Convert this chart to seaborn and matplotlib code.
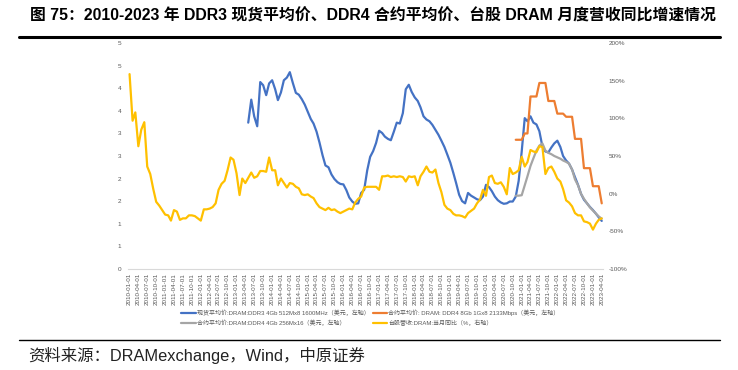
import pandas as pd
import matplotlib
matplotlib.use('Agg')
import matplotlib.pyplot as plt
from matplotlib.lines import Line2D
import seaborn as sns

# style first, fonts after (set_theme resets font.family)
sns.set_theme(style='white')
plt.rcParams['font.family'] = ['Liberation Sans', 'Noto Sans CJK SC']
plt.rcParams['axes.unicode_minus'] = False

# ---- data (monthly) ----
# 台股营收:DRAM:当月同比, %, 2010-01 .. 2023-04
yoy_start = '2010-01-01'
yoy_pct = [
    159, 97, 108, 63, 85, 95, 36, 26, 6, -11, -16, -22,
    -28, -29, -36, -22, -24, -35, -33, -33, -29, -29, -30, -33,
    -36, -21, -21, -20, -18, -13, 5, 13, 17, 31, 48, 45,
    27, -2, 20, 14, 21, 28, 21, 23, 30, 30, 29, 48,
    31, 31, 11, 20, 14, 8, 14, 13, 9, 7, -1, -2,
    -1, -4, -6, -13, -18, -20, -22, -19, -22, -21, -24, -26,
    -24, -22, -20, -21, -12, -7, -4, 8, 9, 9, 9, 9,
    5, 23, 23, 24, 22, 23, 22, 23, 22, 16, 23, 22,
    23, 11, 23, 29, 36, 29, 28, 32, 14, 2, -15, -20,
    -22, -27, -29, -29, -30, -32, -26, -23, -20, -13, -8, 5,
    -3, 22, 24, 14, 13, 15, 9, -1, 34, 26, 28, 31,
    49, 36, 42, 58, 56, 55, 63, 62, 26, 34, 36, 29,
    20, 16, 6, -9, -12, -17, -26, -29, -29, -37, -38, -40,
    -48, -40, -35, -33,
]

# DDR3 4Gb 512Mx8 1600MHz spot, USD, 2013-05 .. 2023-04
ddr3_start = '2013-05-01'
ddr3_spot = [
    3.24, 3.75, 3.38, 3.16, 4.14, 4.07, 3.85, 4.11,
    4.18, 3.98, 3.74, 3.91, 4.18, 4.24, 4.36, 4.12, 3.90, 3.86, 3.76, 3.64,
    3.48, 3.32, 3.22, 3.04, 2.80, 2.52, 2.29, 2.25, 2.09, 1.99, 1.92, 1.88,
    1.87, 1.74, 1.58, 1.49, 1.44, 1.45, 1.68, 1.75, 2.18, 2.48, 2.61, 2.79,
    3.06, 3.01, 2.93, 2.88, 2.85, 3.04, 3.24, 3.22, 3.45, 3.98, 4.08, 3.92,
    3.80, 3.72, 3.58, 3.38, 3.31, 3.27, 3.19, 3.08, 2.97, 2.84, 2.70, 2.53,
    2.35, 2.12, 1.90, 1.64, 1.50, 1.45, 1.68, 1.62, 1.58, 1.54, 1.52, 1.60,
    1.86, 1.81, 1.72, 1.60, 1.52, 1.47, 1.44, 1.45, 1.49, 1.49, 1.60, 1.95,
    2.60, 3.34, 3.27, 3.38, 3.24, 3.20, 3.05, 2.71, 2.60, 2.58, 2.69, 2.78,
    2.84, 2.70, 2.50, 2.40, 2.33, 2.20, 2.03, 1.86, 1.66, 1.53, 1.45, 1.37,
    1.30, 1.22, 1.14, 1.06,
]

# DDR4 contract prices, USD, 2020-11 .. 2023-04
ddr4_start = '2020-11-01'
ddr4_8gb = [
    2.86, 2.86, 2.86, 3.00, 3.00, 3.82, 3.82, 3.82, 4.12, 4.12,
    4.12, 3.72, 3.72, 3.72, 3.44, 3.44, 3.44, 3.37, 3.37, 3.37,
    2.88, 2.88, 2.88, 2.23, 2.23, 2.23, 1.83, 1.83, 1.83, 1.45,
]
ddr4_4gb = [
    1.62, 1.62, 1.63, 1.85, 2.05, 2.28, 2.45, 2.62, 2.73, 2.78,
    2.62, 2.57, 2.54, 2.50, 2.47, 2.44, 2.40, 2.37, 2.33, 2.20,
    1.98, 1.85, 1.66, 1.55, 1.45, 1.36, 1.29, 1.22, 1.16, 1.11,
]

left_ticks = [0, 0.5, 1, 1.5, 2, 2.5, 3, 3.5, 4, 4.5, 5]
left_labels = ['0', '1', '1', '2', '2', '3', '3', '4', '4', '5', '5']
right_ticks = [-1.0, -0.5, 0, 0.5, 1.0, 1.5, 2.0]
right_labels = ['-100%', '-50%', '0%', '50%', '100%', '150%', '200%']

labels = [
    '现货平均价:DRAM:DDR3 4Gb 512Mx8 1600MHz（美元，左轴）',
    '合约平均价:DRAM:DDR4 4Gb 256Mx16（美元，左轴）',
    '合约平均价: DRAM: DDR4 8Gb 1Gx8 2133Mbps（美元，左轴）',
    '台股营收:DRAM:当月同比（%，右轴）',
]
colors = ['#4472C4', '#A5A5A5', '#ED7D31', '#FFC000']


def monthly(start, values, col):
    return pd.DataFrame({'date': pd.date_range(start, periods=len(values), freq='MS'),
                         col: values})


yoy_df = monthly(yoy_start, yoy_pct, 'yoy')
yoy_df['yoy'] = yoy_df['yoy'] / 100
ddr3_df = monthly(ddr3_start, ddr3_spot, 'price')
d8_df = monthly(ddr4_start, ddr4_8gb, 'price')
d4_df = monthly(ddr4_start, ddr4_4gb, 'price')

W, H = 738, 370
fig = plt.figure(figsize=(W / 100, H / 100), dpi=100)
ax = fig.add_axes([128 / W, 1 - 268.7 / H, 475.2 / W, 225.4 / H])
ax2 = ax.twinx()

lw = 1.6
sns.lineplot(data=ddr3_df, x='date', y='price', ax=ax, color=colors[0], linewidth=lw)
sns.lineplot(data=d8_df, x='date', y='price', ax=ax, color=colors[2], linewidth=lw)
sns.lineplot(data=d4_df, x='date', y='price', ax=ax, color=colors[1], linewidth=lw)
sns.lineplot(data=yoy_df, x='date', y='yoy', ax=ax2, color=colors[3], linewidth=lw)

ax.set_ylim(0, 5)
ax2.set_ylim(-1, 2)
ax.set_xlim(pd.Timestamp('2009-12-16'), pd.Timestamp('2023-04-16'))

ax.set_yticks(left_ticks)
ax.set_yticklabels(left_labels)
ax2.set_yticks(right_ticks)
ax2.set_yticklabels(right_labels)

qticks = pd.date_range('2010-01-01', '2023-04-01', freq='QS')
ax.set_xticks(qticks)
ax.set_xticklabels([d.strftime('%Y-%m-%d') for d in qticks], rotation=90)

for a in (ax, ax2):
    a.set_xlabel('')
    a.set_ylabel('')
    for s in a.spines.values():
        s.set_visible(False)
    a.grid(False)
ax.spines['bottom'].set_visible(True)
ax.spines['bottom'].set_color('#d9d9d9')
ax.spines['bottom'].set_linewidth(0.8)

tick_col = '#595959'
ax.tick_params(axis='y', length=0, pad=5, labelsize=4.6, labelcolor=tick_col)
ax2.tick_params(axis='y', length=0, pad=4, labelsize=4.6, labelcolor=tick_col)
ax.tick_params(axis='x', length=0, pad=3, labelsize=4.5, labelcolor=tick_col)

handles = [Line2D([], [], color=c, linewidth=lw) for c in colors]
fig.legend(handles, labels, ncol=2, loc='upper left',
           bbox_to_anchor=(181 / W, 1 - 309.5 / H), frameon=False,
           fontsize=4.3, labelcolor=tick_col, handlelength=2.45,
           handletextpad=0.2, columnspacing=0.5, labelspacing=0.6,
           borderpad=0, borderaxespad=0)

# title, rules and source note
fig.text(30 / W, 1 - 16 / H,
         '图 75：2010-2023 年 DDR3 现货平均价、DDR4 合约平均价、台股 DRAM 月度营收同比增速情况',
         fontsize=11.4, fontweight='bold', va='center', ha='left', color='black')
fig.add_artist(Line2D([19 / W, 720 / W], [1 - 37 / H] * 2, color='black', linewidth=2.2))
fig.add_artist(Line2D([19 / W, 720 / W], [1 - 340 / H] * 2, color='black', linewidth=1.0))
fig.text(28 / W, 1 - 355 / H, '资料来源：DRAMexchange，Wind，中原证券',
         fontsize=11.8, va='center', ha='left', color='#222222')

fig.savefig('out.png', dpi=100)
